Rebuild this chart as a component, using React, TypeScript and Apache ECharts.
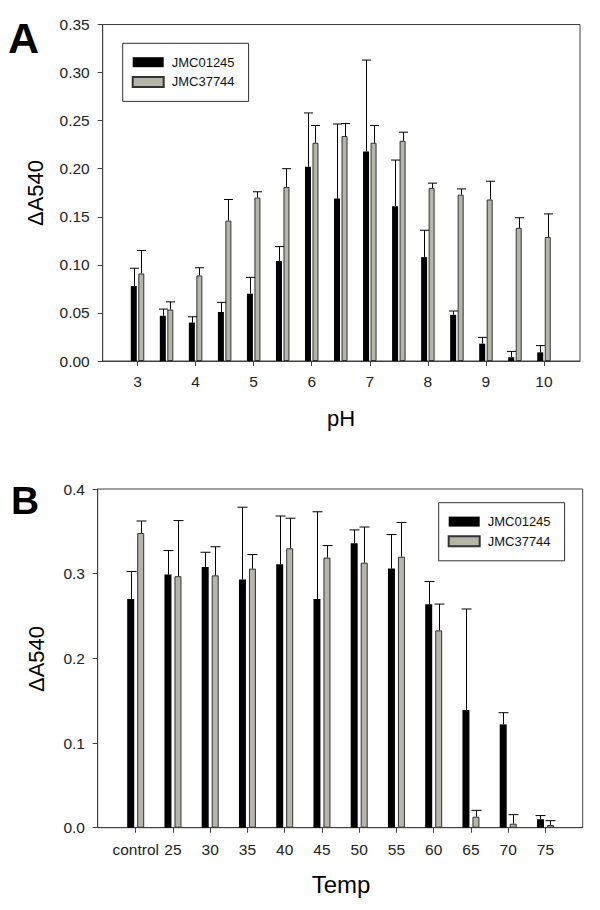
import React, { useEffect, useRef } from "react";
import * as echarts from "echarts";

// ---- Panel A (pH) ----
const phPositions = [3, 3.5, 4, 4.5, 5, 5.5, 6, 6.5, 7, 7.5, 8, 8.5, 9, 9.5, 10];
const phTickValues = [3, 4, 5, 6, 7, 8, 9, 10];
const phJMC01245 = [0.078, 0.047, 0.040, 0.051, 0.070, 0.104, 0.202, 0.169, 0.218, 0.161, 0.108, 0.048, 0.018, 0.004, 0.009];
const phJMC01245Err = [0.0185, 0.007, 0.006, 0.010, 0.017, 0.015, 0.056, 0.0775, 0.095, 0.048, 0.028, 0.004, 0.0066, 0.006, 0.007];
const phJMC37744 = [0.091, 0.0535, 0.089, 0.146, 0.170, 0.181, 0.227, 0.234, 0.227, 0.229, 0.180, 0.173, 0.168, 0.1385, 0.129];
const phJMC37744Err = [0.024, 0.008, 0.008, 0.022, 0.006, 0.019, 0.018, 0.013, 0.018, 0.009, 0.005, 0.006, 0.019, 0.0105, 0.024];

// ---- Panel B (Temp) ----
const tempCategories = ["control", "25", "30", "35", "40", "45", "50", "55", "60", "65", "70", "75"];
const tempJMC01245 = [0.270, 0.299, 0.308, 0.293, 0.311, 0.270, 0.336, 0.306, 0.264, 0.139, 0.122, 0.010];
const tempJMC01245Err = [0.0326, 0.0283, 0.0173, 0.0855, 0.0571, 0.1031, 0.0157, 0.0402, 0.0268, 0.1193, 0.0138, 0.0043];
const tempJMC37744 = [0.348, 0.297, 0.298, 0.306, 0.330, 0.319, 0.313, 0.320, 0.233, 0.013, 0.0047, 0.0032];
const tempJMC37744Err = [0.0142, 0.0657, 0.0338, 0.0166, 0.0355, 0.0142, 0.0421, 0.0405, 0.0311, 0.0075, 0.0107, 0.0051];

const seriesNames = ["JMC01245", "JMC37744"];
const FONT = "'Liberation Sans', Arial, Helvetica, sans-serif";
const AXIS_COLOR = "#404040";
const GRAY = "#b5b5a8";

function errSeries(xAxisIndex: number, xs: number[], vals: number[], errs: number[], offset: number, cap: number) {
  return {
    type: "custom",
    xAxisIndex,
    yAxisIndex: xAxisIndex,
    z: 5,
    silent: true,
    data: xs.map((x, i) => [x, vals[i], errs[i]]),
    encode: { x: 0, y: 1 },
    renderItem: (params: any, api: any) => {
      const x = api.value(0);
      const v = api.value(1);
      const e = api.value(2);
      const p0 = api.coord([x, v]);
      const p1 = api.coord([x, v + e]);
      const cx = Math.round(p0[0] + offset) + 0.5;
      const style = { stroke: "#000", lineWidth: 1 };
      return {
        type: "group",
        children: [
          { type: "line", shape: { x1: cx, y1: p0[1], x2: cx, y2: p1[1] }, style },
          { type: "line", shape: { x1: cx - cap / 2, y1: p1[1], x2: cx + cap / 2, y2: p1[1] }, style },
        ],
      };
    },
  };
}

export default function App() {
  const ref = useRef<HTMLDivElement>(null);
  useEffect(() => {
    document.body.style.margin = "0";
    if (!ref.current) return;
    const chart = echarts.init(ref.current, null, { renderer: "svg" });

    const barWA = 6;
    const gapA = 1.5;
    const offA = (barWA + gapA) / 2;
    const barWB = 7;
    const gapB = 3;
    const offB = (barWB + gapB) / 2;
    const tempX = tempCategories.map((_, i) => i);

    const axisLabelStyle = { fontFamily: FONT, fontSize: 15.5, color: "#222" };

    const legendCommon = {
      orient: "vertical",
      icon: "rect",
      itemWidth: 31,
      itemHeight: 10,
      itemGap: 6.7,
      borderColor: "#333",
      borderWidth: 1,
      padding: [12.4, 14, 13, 9],
      textStyle: { fontFamily: FONT, fontSize: 13, color: "#111", lineHeight: 10, padding: [0, 0, 0, 3] },
      data: seriesNames,
      selectedMode: false,
    };

    chart.setOption({
      animation: false,
      backgroundColor: "#fff",
      grid: [
        { left: 102.7, top: 24.5, width: 477.3, height: 336.5, show: true, borderColor: AXIS_COLOR, borderWidth: 1, backgroundColor: "transparent" },
        { left: 97.7, top: 489, width: 485, height: 338.7, show: true, borderColor: AXIS_COLOR, borderWidth: 1, backgroundColor: "transparent" },
      ],
      legend: [
        { ...legendCommon, left: 122.7, top: 43.3 },
        { ...legendCommon, left: 438.7, top: 502.7 },
      ],
      xAxis: [
        {
          type: "value",
          gridIndex: 0,
          min: 2.4,
          max: 10.62,
          splitLine: { show: false },
          axisLine: { show: true, onZero: false, lineStyle: { color: AXIS_COLOR, width: 1 } },
          axisTick: { show: true, customValues: phTickValues, length: 5, lineStyle: { color: AXIS_COLOR } },
          axisLabel: { show: true, customValues: phTickValues, margin: 12, ...axisLabelStyle, formatter: (v: number) => String(v) },
        },
        {
          type: "value",
          gridIndex: 1,
          min: -1.02,
          max: 12.0,
          splitLine: { show: false },
          axisLine: { show: true, onZero: false, lineStyle: { color: AXIS_COLOR, width: 1 } },
          axisTick: { show: true, customValues: tempX, length: 5, lineStyle: { color: AXIS_COLOR } },
          axisLabel: {
            show: true,
            customValues: tempX,
            margin: 14,
            ...axisLabelStyle,
            formatter: (v: number) => tempCategories[Math.round(v)] ?? "",
          },
        },
      ],
      yAxis: [
        {
          type: "value",
          gridIndex: 0,
          min: 0,
          max: 0.35,
          interval: 0.05,
          splitLine: { show: false },
          axisLine: { show: true, onZero: false, lineStyle: { color: AXIS_COLOR, width: 1 } },
          axisTick: { show: true, length: 5, lineStyle: { color: AXIS_COLOR } },
          axisLabel: { margin: 13, ...axisLabelStyle, formatter: (v: number) => v.toFixed(2) },
        },
        {
          type: "value",
          gridIndex: 1,
          min: 0,
          max: 0.4,
          interval: 0.1,
          splitLine: { show: false },
          axisLine: { show: true, onZero: false, lineStyle: { color: AXIS_COLOR, width: 1 } },
          axisTick: { show: true, length: 5, lineStyle: { color: AXIS_COLOR } },
          axisLabel: { margin: 12.7, ...axisLabelStyle, formatter: (v: number) => v.toFixed(1) },
        },
      ],
      series: [
        {
          name: seriesNames[0],
          type: "bar",
          xAxisIndex: 0,
          yAxisIndex: 0,
          barWidth: barWA,
          barGap: `${(gapA / barWA) * 100}%`,
          itemStyle: { color: "#000", borderColor: "#000", borderWidth: 0 },
          data: phPositions.map((x, i) => [x, phJMC01245[i]]),
        },
        {
          name: seriesNames[1],
          type: "bar",
          xAxisIndex: 0,
          yAxisIndex: 0,
          barWidth: barWA,
          barGap: `${(gapA / barWA) * 100}%`,
          itemStyle: { color: GRAY, borderColor: "#333", borderWidth: 1 },
          data: phPositions.map((x, i) => [x, phJMC37744[i]]),
        },
        {
          name: seriesNames[0],
          type: "bar",
          xAxisIndex: 1,
          yAxisIndex: 1,
          barWidth: barWB,
          barGap: `${(gapB / barWB) * 100}%`,
          itemStyle: { color: "#000", borderColor: "#000", borderWidth: 0 },
          data: tempX.map((x, i) => [x, tempJMC01245[i]]),
        },
        {
          name: seriesNames[1],
          type: "bar",
          xAxisIndex: 1,
          yAxisIndex: 1,
          barWidth: barWB,
          barGap: `${(gapB / barWB) * 100}%`,
          itemStyle: { color: GRAY, borderColor: "#333", borderWidth: 1 },
          data: tempX.map((x, i) => [x, tempJMC37744[i]]),
        },
        errSeries(0, phPositions, phJMC01245, phJMC01245Err, -offA, 9),
        errSeries(0, phPositions, phJMC37744, phJMC37744Err, offA, 9),
        errSeries(1, tempX, tempJMC01245, tempJMC01245Err, -offB, 10),
        errSeries(1, tempX, tempJMC37744, tempJMC37744Err, offB, 10),
      ],
      graphic: [
        { type: "text", left: 8, top: 16, style: { text: "A", fontFamily: FONT, fontSize: 43, fontWeight: "bold", fill: "#000" } },
        { type: "text", left: 11, top: 481, style: { text: "B", fontFamily: FONT, fontSize: 39, fontWeight: "bold", fill: "#000" } },
        {
          type: "text",
          x: 35,
          y: 193,
          rotation: Math.PI / 2,
          style: { text: "\u0394A540", fontFamily: FONT, fontSize: 22, fill: "#000", align: "center", verticalAlign: "middle" },
        },
        {
          type: "text",
          x: 36.5,
          y: 659,
          rotation: Math.PI / 2,
          style: { text: "\u0394A540", fontFamily: FONT, fontSize: 22, fill: "#000", align: "center", verticalAlign: "middle" },
        },
        { type: "text", x: 341, y: 418, style: { text: "pH", fontFamily: FONT, fontSize: 22, fill: "#000", align: "center", verticalAlign: "middle" } },
        { type: "text", x: 341, y: 884, style: { text: "Temp", fontFamily: FONT, fontSize: 24, fill: "#000", align: "center", verticalAlign: "middle" } },
      ],
    });
    return () => chart.dispose();
  }, []);
  return <div ref={ref} style={{ width: 600, height: 910 }} />;
}
